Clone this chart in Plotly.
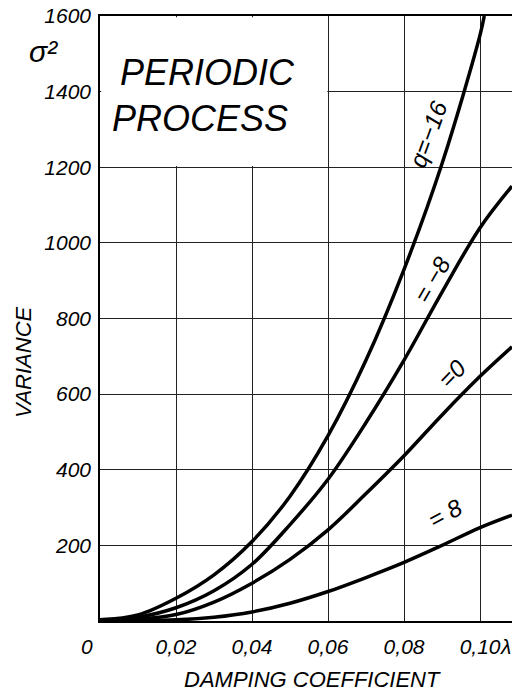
import plotly.graph_objects as go

# Damping coefficient (lambda)
lam = [0.0, 0.01, 0.02, 0.03, 0.04, 0.05, 0.06, 0.07, 0.08, 0.09, 0.10, 0.1084]
lam_q16 = [0.0, 0.01, 0.02, 0.03, 0.04, 0.05, 0.06, 0.07, 0.08, 0.09, 0.10, 0.1011]

# Variance sigma^2 for each q
var_q_m16 = [3, 16, 60, 122, 210, 330, 490, 690, 930, 1210, 1550, 1600]
var_q_m8 = [3, 10, 35, 80, 150, 255, 375, 525, 690, 870, 1040, 1150]
var_q_0 = [2, 5, 17, 50, 100, 163, 241, 337, 437, 545, 647, 725]
var_q_8 = [1, 1, 3, 10, 24, 47, 78, 115, 155, 200, 247, 280]

x_ticks = [0.02, 0.04, 0.06, 0.08, 0.10]
x_ticktext = ["0,02", "0,04", "0,06", "0,08", "0,10"]
y_ticks = [200, 400, 600, 800, 1000, 1200, 1400, 1600]
y_ticktext = ["200", "400", "600", "800", "1000", "1200", "1400", "1600"]

curve_labels = ["q=−16", "= −8", "=0", "= 8"]
label_x = [0.0863, 0.0874, 0.0926, 0.0908]
label_y = [1287, 903, 655, 284]
label_angle = [-70, -60, -46, -28]

FONT = "Liberation Sans"
fig = go.Figure()
for xs, ys in [(lam_q16, var_q_m16), (lam, var_q_m8), (lam, var_q_0), (lam, var_q_8)]:
    fig.add_trace(go.Scatter(x=xs, y=ys, mode="lines",
                             line=dict(color="black", width=3.5, shape="spline", smoothing=1.0),
                             showlegend=False, hoverinfo="skip"))

tfont = dict(family=FONT, size=21, color="black", style="italic")

fig.update_layout(
    width=512, height=695,
    margin=dict(l=100, r=0, t=16, b=74),
    paper_bgcolor="white", plot_bgcolor="white",
    xaxis=dict(range=[0, 0.1084], tickvals=x_ticks, ticktext=x_ticktext,
               showgrid=True, gridcolor="#222", gridwidth=1, automargin=False,
               showline=True, linecolor="black", linewidth=1.5, mirror=True,
               ticks="", ticklabelstandoff=6, tickfont=tfont, zeroline=False),
    yaxis=dict(range=[0, 1600], tickvals=y_ticks, ticktext=y_ticktext,
               showgrid=True, gridcolor="#222", gridwidth=1, automargin=False,
               showline=True, linecolor="black", linewidth=1.5,
               ticks="", ticklabelstandoff=3, tickfont=tfont, zeroline=False),
)

# blank box (no grid) behind the title text
fig.add_shape(type="rect", xref="x", yref="y", x0=0.0003, x1=0.0598, y0=1203, y1=1597,
              fillcolor="white", line=dict(width=0), layer="between")

big = dict(family=FONT, size=36, color="black", style="italic")
ann = []
for t, x, y, a in zip(curve_labels, label_x, label_y, label_angle):
    ann.append(dict(x=x, y=y, xref="x", yref="y", text=t, showarrow=False, textangle=a,
                    xanchor="center", yanchor="middle",
                    font=dict(family=FONT, size=24, color="black", style="italic")))
ann += [
    dict(x=0, y=0, xref="x", yref="y", text="0", showarrow=False, xshift=-13, yshift=-12,
         xanchor="center", yanchor="top", font=tfont),
    dict(x=0.1068, y=0, xref="x", yref="y", text="λ", showarrow=False, yshift=-12,
         xanchor="center", yanchor="top", font=tfont),
    dict(x=0.0437, y=0.9058, xref="paper", yref="paper", xanchor="left", yanchor="middle",
         text="PERIODIC", showarrow=False, font=big),
    dict(x=0.0243, y=0.8314, xref="paper", yref="paper", xanchor="left", yanchor="middle",
         text="PROCESS", showarrow=False, font=big),
    dict(x=-0.187, y=0.428, xref="paper", yref="paper", text="VARIANCE", textangle=-90,
         xanchor="center", yanchor="middle",
         showarrow=False, font=dict(family=FONT, size=22, color="black", style="italic")),
    dict(x=0.515, y=-0.0975, xref="paper", yref="paper", text="DAMPING COEFFICIENT",
         xanchor="center", yanchor="middle",
         showarrow=False, font=dict(family=FONT, size=22, color="black", style="italic")),
    dict(x=-0.136, y=0.9405, xref="paper", yref="paper", text="σ²", showarrow=False,
         xanchor="center", yanchor="middle",
         font=dict(family=FONT, size=30, color="black", style="italic")),
]
fig.update_layout(annotations=ann)
fig.write_html("out.html", config={"displayModeBar": False},
               post_script="document.body.style.margin='0px';document.body.style.overflow='hidden';")
